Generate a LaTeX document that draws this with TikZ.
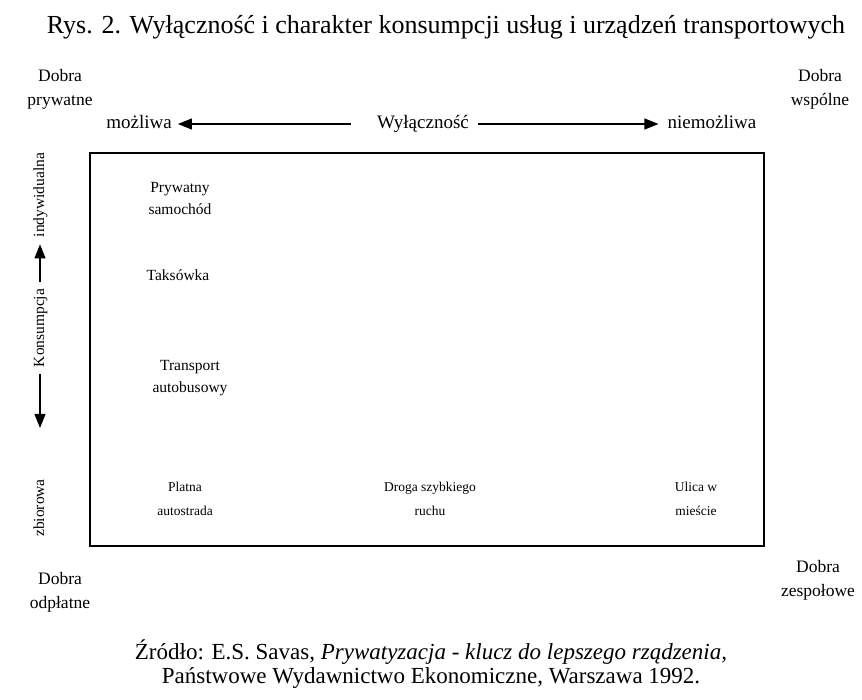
\documentclass[tikz,border=0pt]{standalone}
\usepackage{fontspec}
\setmainfont{Liberation Serif}
\usetikzlibrary{arrows.meta}

\begin{document}
\begin{tikzpicture}[x=1pt, y=-1pt,
  corner/.style={align=center, font=\fontsize{17.5}{24}\selectfont, inner sep=1pt},
  item/.style={align=center, font=\fontsize{15.5}{22}\selectfont, inner sep=1pt},
  axislbl/.style={font=\fontsize{19}{20}\selectfont, inner sep=1pt, anchor=base,
    text height=14pt, text depth=4pt},
  vlbl/.style={font=\fontsize{15.5}{20}\selectfont, inner sep=1pt, rotate=90,
    text height=12pt, text depth=4pt},
  arr/.style={-{Triangle[length=14pt, width=11pt]}, line width=1.2pt}]
\useasboundingbox (0,0) rectangle (862,700);

% Title
\node[font=\fontsize{26}{30}\selectfont] (title) at (446,27)
  {Rys. 2. Wyłączność i charakter konsumpcji usług i urządzeń transportowych};

% Corners
\node[corner] (prywatne) at (60,89) {Dobra\\prywatne};
\node[corner] (wspolne) at (820,89) {Dobra\\wspólne};
\node[corner] (odplatne) at (60,592) {Dobra\\odpłatne};
\node[corner] (zespolowe) at (818,580) {Dobra\\zespołowe};

% Exclusivity axis
\node[axislbl] (mozliwa) at (139,129) {możliwa};
\node[axislbl] (wylacznosc) at (423,129) {Wyłączność};
\node[axislbl] (niemozliwa) at (712,129) {niemożliwa};
\draw[arr, shorten <=25pt, shorten >=5pt] (wylacznosc.west) -- (mozliwa.east);
\draw[arr, shorten <=8pt, shorten >=8pt] (wylacznosc.east) -- (niemozliwa.west);

% Consumption axis
\node[vlbl] (indyw) at (40,195) {indywidualna};
\node[vlbl] (konsumpcja) at (40,328) {Konsumpcja};
\node[vlbl] (zbiorowa) at (40,508) {zbiorowa};
\draw[arr, shorten <=6pt, shorten >=6pt] (konsumpcja.east) -- (indyw.west);
\draw[arr, shorten <=6pt, shorten >=50pt] (konsumpcja.west) -- (zbiorowa.east);

% Frame
\draw[line width=1.4pt] (90,153) rectangle (764,546);

% Services
\node[item] (samochod) at (180,199) {Prywatny\\samochód};
\node[item] (taksowka) at (178,275) {Taksówka};
\node[item] (autobus) at (190,378) {Transport\\autobusowy};
\node[item, font=\fontsize{13.5}{24}\selectfont] (autostrada) at (185,499) {Platna\\autostrada};
\node[item, font=\fontsize{13.5}{24}\selectfont] (droga) at (430,499) {Droga szybkiego\\ruchu};
\node[item, font=\fontsize{13.5}{24}\selectfont] (ulica) at (696,499) {Ulica w\\mieście};

% Source
\node[align=center, font=\fontsize{23}{24}\selectfont] (zrodlo) at (431,664)
  {Źródło: E.S. Savas, \textit{Prywatyzacja - klucz do lepszego rządzenia,}\\
   Państwowe Wydawnictwo Ekonomiczne, Warszawa 1992.};
\end{tikzpicture}
\end{document}
